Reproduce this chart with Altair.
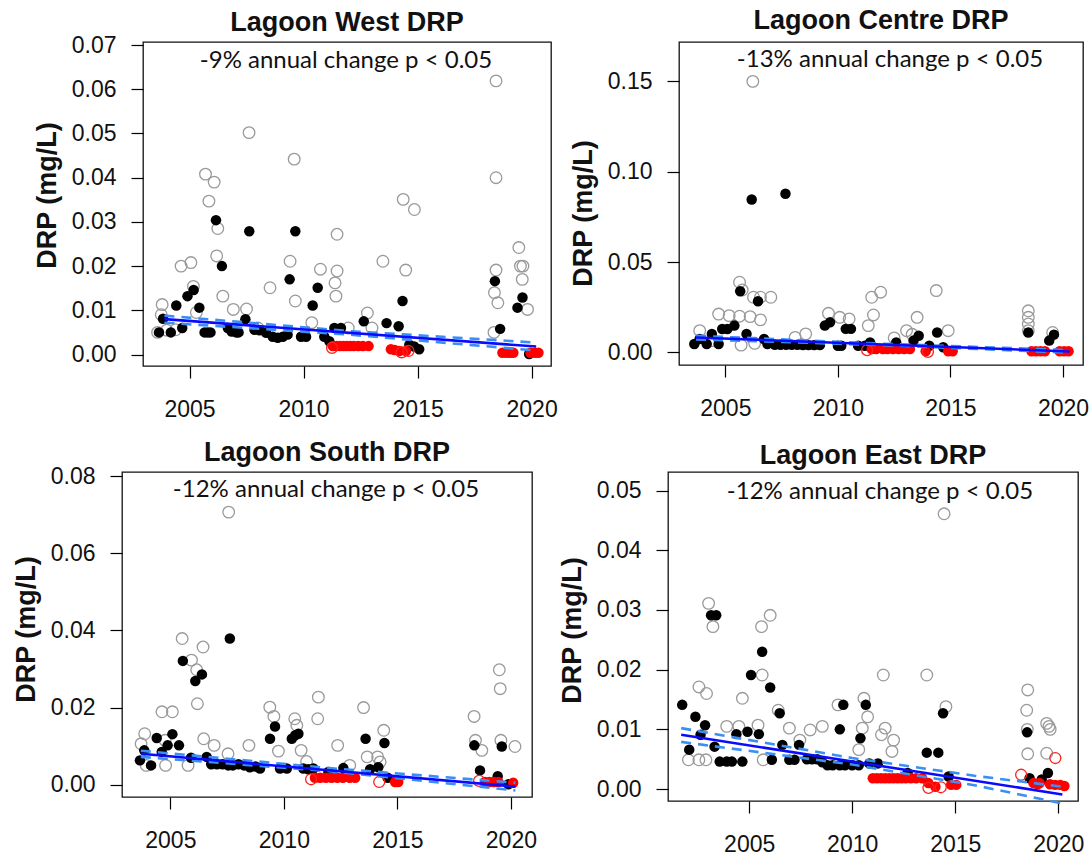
import altair as alt
import pandas as pd

# ---------------- data (year, DRP mg/L) ----------------
WEST_GREY = [(2004.63,0.0200),(2005.06,0.0208),(2005.70,0.0408),(2006.08,0.0390),(2005.85,0.0347),(2006.24,0.0285),
             (2006.19,0.0223),(2007.61,0.0502),(2008.53,0.0151),(2009.59,0.0442),(2009.41,0.0211),(2009.64,0.0121),
             (2010.74,0.0193),(2011.47,0.0272),(2011.47,0.0189),(2011.38,0.0162),(2011.42,0.0132),(2013.48,0.0211),
             (2014.37,0.0351),(2014.86,0.0328),(2014.48,0.0191),(2018.44,0.0619),(2018.44,0.0400),(2018.44,0.0191),
             (2018.37,0.0140),(2018.52,0.0117),(2019.44,0.0242),(2019.51,0.0200),(2019.62,0.0200),(2019.59,0.0170),
             (2019.82,0.0102),(2006.46,0.0132),(2006.92,0.0102),(2007.50,0.0103),(2005.17,0.0154),(2003.80,0.0113),
             (2012.80,0.0094),(2011.96,0.0060),(2010.36,0.0072),(2003.76,0.0090),(2004.39,0.0056),(2006.90,0.0056),
             (2003.60,0.0050),(2004.00,0.0055),(2005.30,0.0095),(2008.00,0.0060),(2013.00,0.0060),(2018.35,0.0050)]
WEST_BLACK = [(2006.16,0.0304),(2006.42,0.0200),(2007.62,0.0279),(2009.64,0.0279),(2009.39,0.0170),(2010.62,0.0151),
              (2010.40,0.0111),(2004.42,0.0111),(2004.91,0.0132),(2005.18,0.0146),(2005.43,0.0106),(2003.84,0.0081),
              (2003.66,0.0050),(2004.18,0.0050),(2004.68,0.0060),(2005.66,0.0050),(2005.80,0.0050),(2005.92,0.0050),
              (2006.68,0.0060),(2006.85,0.0052),(2007.05,0.0050),(2007.15,0.0050),(2007.45,0.0080),(2007.85,0.0056),
              (2008.07,0.0055),(2008.36,0.0049),(2008.65,0.0040),(2008.87,0.0038),(2009.09,0.0040),(2009.30,0.0045),
              (2009.89,0.0040),(2010.11,0.0040),(2010.91,0.0040),(2011.13,0.0030),(2011.35,0.0060),(2011.64,0.0060),
              (2012.64,0.0075),(2013.64,0.0071),(2014.17,0.0064),(2014.34,0.0121),(2014.64,0.0022),(2014.85,0.0018),
              (2015.07,0.0012),(2018.39,0.0166),(2018.62,0.0058),(2019.60,0.0129),(2019.38,0.0106),(2019.89,0.0001)]
WEST_RED = [(2011.28,0.0019),(2011.45,0.0019),(2011.60,0.0019),(2011.75,0.0019),(2011.90,0.0019),(2012.05,0.0019),
            (2012.20,0.0019),(2012.40,0.0019),(2012.60,0.0019),(2012.85,0.0019),(2013.83,0.0012),(2014.00,0.0010),
            (2014.20,0.0008),(2014.49,0.0008),(2018.72,0.0004),(2018.90,0.0004),(2019.05,0.0004),(2019.20,0.0004),
            (2019.95,0.0004),(2020.15,0.0004),(2020.30,0.0004)]
WEST_RED_OPEN = [(2011.25,0.0015),(2014.30,0.0005),(2014.60,0.0008)]
WEST_TREND = [(2003.9,0.0080),(2020.2,0.0018)]
WEST_UPPER = [(2003.9,0.0088),(2012.0,0.0053),(2020.2,0.0027)]
WEST_LOWER = [(2003.9,0.0072),(2012.0,0.0045),(2020.2,0.0009)]

CENTRE_GREY = [(2006.22,0.150),(2005.63,0.0388),(2005.75,0.0345),(2006.25,0.0305),(2006.56,0.0305),(2007.02,0.0305),
               (2004.70,0.0212),(2005.17,0.0203),(2005.63,0.0200),(2006.10,0.0198),(2006.56,0.0180),(2009.58,0.0216),
               (2010.08,0.0194),(2010.50,0.0185),(2011.50,0.0305),(2011.90,0.0333),(2011.58,0.0207),(2011.35,0.0148),
               (2013.52,0.0194),(2014.37,0.0342),(2014.90,0.0120),(2013.05,0.0120),(2018.46,0.0230),(2018.46,0.0194),
               (2018.46,0.0157),(2018.46,0.0120),(2019.54,0.0110),(2003.86,0.0120),(2004.40,0.0065),(2008.57,0.0102),
               (2008.10,0.0083),(2005.70,0.0040),(2006.30,0.0050),(2012.50,0.0080),(2013.30,0.0100)]
CENTRE_BLACK = [(2006.17,0.0846),(2007.67,0.0878),(2005.66,0.0338),(2006.45,0.0283),(2004.40,0.0102),(2004.86,0.0129),
                (2005.09,0.0129),(2005.40,0.0148),(2005.94,0.0102),(2003.62,0.0046),(2003.86,0.0074),(2004.17,0.0046),
                (2004.70,0.0046),(2006.72,0.0074),(2006.87,0.0046),(2007.20,0.0042),(2007.45,0.0042),(2007.70,0.0042),
                (2007.95,0.0042),(2008.20,0.0042),(2008.45,0.0040),(2008.70,0.0040),(2008.95,0.0040),(2009.20,0.0040),
                (2009.42,0.0148),(2009.65,0.0166),(2010.00,0.0037),(2010.15,0.0037),(2010.35,0.0130),(2010.58,0.0130),
                (2010.90,0.0037),(2011.20,0.0037),(2011.43,0.0055),(2012.59,0.0055),(2013.36,0.0065),(2013.59,0.0092),
                (2014.06,0.0037),(2014.41,0.0110),(2014.68,0.0028),(2018.46,0.0110),(2019.39,0.0065),(2019.60,0.0098)]
CENTRE_RED = [(2011.50,0.0018),(2011.70,0.0018),(2012.00,0.0018),(2012.20,0.0018),(2012.45,0.0018),(2012.70,0.0018),
              (2012.95,0.0018),(2013.20,0.0018),(2013.90,0.0006),(2014.90,0.0006),(2015.10,0.0006),(2018.60,0.0006),
              (2018.80,0.0006),(2019.00,0.0006),(2019.20,0.0006),(2019.85,0.0006),(2020.05,0.0006),(2020.25,0.0006)]
CENTRE_RED_OPEN = [(2011.30,0.0012),(2014.00,0.0003)]
CENTRE_TREND = [(2003.7,0.0082),(2020.3,0.0005)]
CENTRE_UPPER = [(2003.7,0.0092),(2012.0,0.0048),(2020.3,0.0012)]
CENTRE_LOWER = [(2003.7,0.0072),(2012.0,0.0040),(2020.3,-0.0002)]

SOUTH_GREY = [(2007.57,0.0707),(2005.52,0.0379),(2005.93,0.0323),(2006.44,0.0357),(2006.16,0.0298),(2006.19,0.0210),
              (2004.63,0.0189),(2005.09,0.0189),(2006.47,0.0119),(2006.93,0.0102),(2007.54,0.0080),(2008.46,0.0102),
              (2009.38,0.0201),(2009.56,0.0177),(2009.76,0.0087),(2010.48,0.0171),(2010.57,0.0154),(2011.52,0.0227),
              (2011.49,0.0171),(2012.37,0.0102),(2013.51,0.0200),(2014.40,0.0141),(2018.38,0.0177),(2018.44,0.0115),
              (2018.72,0.0089),(2019.49,0.0298),(2019.53,0.0249),(2019.56,0.0115),(2020.18,0.0099),(2003.87,0.0132),
              (2003.71,0.0106),(2003.94,0.0050),(2004.79,0.0050),(2005.78,0.0050),(2010.76,0.0089),(2013.67,0.0072),
              (2014.13,0.0072),(2004.77,0.0115),(2014.24,0.0059),(2011.00,0.0060),(2012.90,0.0050)]
SOUTH_BLACK = [(2007.62,0.0379),(2005.55,0.0321),(2006.10,0.0269),(2006.39,0.0286),(2004.40,0.0121),(2005.09,0.0131),
               (2003.66,0.0063),(2003.85,0.0089),(2004.15,0.0050),(2004.62,0.0085),(2004.88,0.0102),(2005.38,0.0102),
               (2005.91,0.0070),(2006.60,0.0072),(2006.80,0.0053),(2007.05,0.0053),(2007.30,0.0053),(2007.55,0.0050),
               (2007.75,0.0050),(2008.00,0.0053),(2008.25,0.0050),(2008.50,0.0045),(2008.75,0.0047),(2008.95,0.0042),
               (2009.39,0.0119),(2009.61,0.0151),(2009.83,0.0042),(2010.13,0.0042),(2010.35,0.0119),(2010.50,0.0128),
               (2010.64,0.0132),(2010.86,0.0042),(2011.08,0.0040),(2011.30,0.0042),(2011.96,0.0033),(2012.62,0.0043),
               (2013.60,0.0119),(2013.80,0.0040),(2014.16,0.0045),(2014.43,0.0108),(2014.57,0.0018),(2018.39,0.0102),
               (2018.64,0.0037),(2019.60,0.0099),(2019.42,0.0022),(2019.89,0.0001)]
SOUTH_RED = [(2011.37,0.0018),(2011.60,0.0018),(2011.85,0.0018),(2012.10,0.0018),(2012.35,0.0018),(2012.60,0.0018),
             (2012.90,0.0018),(2013.14,0.0018),(2014.90,0.0007),(2015.04,0.0007),(2018.86,0.0007),(2019.05,0.0007),
             (2019.25,0.0007),(2019.45,0.0007),(2020.10,0.0005)]
SOUTH_RED_OPEN = [(2011.20,0.0014),(2014.20,0.0007),(2018.60,0.0010)]
SOUTH_TREND = [(2003.7,0.0080),(2020.2,-0.0005)]
SOUTH_UPPER = [(2003.7,0.0088),(2012.0,0.0043),(2020.2,0.0005)]
SOUTH_LOWER = [(2003.7,0.0072),(2012.0,0.0035),(2020.2,-0.0015)]

EAST_GREY = [(2014.46,0.0461),(2003.03,0.0311),(2003.24,0.0272),(2002.56,0.0171),(2002.93,0.0160),(2004.67,0.0152),
             (2005.60,0.0272),(2006.02,0.0291),(2005.63,0.0191),(2006.41,0.0132),(2006.95,0.0102),(2007.96,0.0099),
             (2008.55,0.0105),(2007.46,0.0082),(2009.31,0.0141),(2010.57,0.0152),(2010.75,0.0121),(2010.49,0.0102),
             (2010.32,0.0066),(2011.51,0.0191),(2011.42,0.0091),(2011.60,0.0102),(2012.01,0.0082),(2011.93,0.0063),
             (2013.62,0.0191),(2014.55,0.0138),(2018.52,0.0166),(2018.47,0.0132),(2018.52,0.0059),(2019.44,0.0110),
             (2019.61,0.0100),(2019.44,0.0060),(2002.05,0.0049),(2002.56,0.0049),(2002.90,0.0049),(2003.91,0.0105),
             (2004.50,0.0105),(2005.43,0.0107),(2005.68,0.0049),(2018.50,0.0100),(2019.55,0.0105)]
EAST_BLACK = [(2001.75,0.0141),(2002.09,0.0066),(2002.39,0.0121),(2002.86,0.0107),(2002.64,0.0091),(2003.15,0.0291),
              (2003.40,0.0291),(2003.32,0.0071),(2003.57,0.0046),(2003.91,0.0046),(2004.16,0.0046),(2004.38,0.0092),
              (2004.67,0.0046),(2004.92,0.0096),(2005.09,0.0191),(2005.47,0.0092),(2005.63,0.0230),(2006.02,0.0170),
              (2006.10,0.0049),(2006.48,0.0127),(2006.61,0.0074),(2006.95,0.0049),(2007.20,0.0049),(2007.42,0.0074),
              (2007.80,0.0050),(2008.05,0.0050),(2008.30,0.0050),(2008.55,0.0045),(2008.80,0.0040),(2009.05,0.0040),
              (2009.40,0.0040),(2009.65,0.0040),(2009.40,0.0100),(2009.57,0.0141),(2010.00,0.0040),(2010.32,0.0040),
              (2010.40,0.0085),(2010.66,0.0141),(2010.83,0.0043),(2011.25,0.0043),(2012.69,0.0027),(2013.62,0.0061),
              (2014.18,0.0061),(2014.41,0.0127),(2014.68,0.0021),(2018.49,0.0095),(2018.61,0.0018),(2019.50,0.0027),
              (2019.20,0.0016)]
EAST_RED = [(2011.00,0.0018),(2011.20,0.0018),(2011.40,0.0018),(2011.60,0.0018),(2011.80,0.0018),(2012.00,0.0018),
            (2012.20,0.0018),(2012.40,0.0018),(2012.60,0.0018),(2012.85,0.0018),(2013.10,0.0018),(2013.40,0.0018),
            (2013.70,0.0010),(2014.04,0.0004),(2014.80,0.0007),(2015.05,0.0007),(2018.80,0.0010),(2019.00,0.0008),
            (2019.10,0.0010),(2019.60,0.0008),(2019.85,0.0007),(2020.10,0.0007),(2020.30,0.0005)]
EAST_RED_OPEN = [(2019.86,0.0052),(2013.70,0.0002),(2018.20,0.0024),(2014.30,0.0003)]
EAST_TREND = [(2001.7,0.0091),(2020.2,-0.0009)]
EAST_UPPER = [(2001.7,0.0102),(2010.0,0.0052),(2016.0,0.0022),(2020.2,0.0004)]
EAST_LOWER = [(2001.7,0.0079),(2010.0,0.0041),(2016.0,0.0006),(2020.2,-0.0024)]

TITLES = ["Lagoon West DRP", "Lagoon Centre DRP", "Lagoon South DRP", "Lagoon East DRP"]
NOTES = ["-9% annual change p < 0.05", "-13% annual change p < 0.05",
         "-12% annual change p < 0.05", "-12% annual change p < 0.05"]
X_TICKS = [2005, 2010, 2015, 2020]
Y_TICKS = [[0.00, 0.01, 0.02, 0.03, 0.04, 0.05, 0.06, 0.07],
           [0.00, 0.05, 0.10, 0.15],
           [0.00, 0.02, 0.04, 0.06, 0.08],
           [0.00, 0.01, 0.02, 0.03, 0.04, 0.05]]
X_DOMAINS = [[2002.96, 2020.85], [2002.94, 2020.89], [2002.87, 2020.93], [2001.06, 2020.96]]
Y_DOMAINS = [[-0.0026, 0.0707], [-0.0070, 0.1718], [-0.0032, 0.0811], [-0.0020, 0.0531]]

FONT = "Liberation Sans"


def frame(pairs):
    return pd.DataFrame({"year": [p[0] for p in pairs], "drp": [p[1] for p in pairs]})


def panel(i, grey, black, red, red_open, trend, upper, lower, width, height,
          note_x, note_y, title_offset, ytitle_y, spacer=None):
    xs = alt.Scale(domain=X_DOMAINS[i], nice=False, zero=False)
    ys = alt.Scale(domain=Y_DOMAINS[i], nice=False, zero=False)
    xax = alt.Axis(values=X_TICKS, format="d", title=None, grid=False, domain=False,
                   tickSize=12, tickColor="black", tickWidth=1.2, labelFont=FONT,
                   labelFontSize=23, labelColor="#111", labelPadding=20, labelFlush=False,
                   labelOverlap=False)
    yax = alt.Axis(values=Y_TICKS[i], format=".2f", title="DRP (mg/L)", grid=False, domain=False,
                   tickSize=12, tickColor="black", tickWidth=1.2, labelFont=FONT,
                   labelFontSize=23, labelColor="#111", labelPadding=15, labelFlush=False,
                   labelOverlap=False, titleFont=FONT, titleFontSize=27, titleFontWeight="bold",
                   titleColor="#111", titlePadding=10, titleY=ytitle_y)
    x = alt.X("year:Q", scale=xs, axis=xax)
    y = alt.Y("drp:Q", scale=ys, axis=yax)

    layers = [
        alt.Chart(frame(grey)).mark_point(shape="circle", filled=False, size=135, color="#9a9a9a",
                                          strokeWidth=1.3, opacity=1).encode(x=x, y=y),
        alt.Chart(frame(black)).mark_point(shape="circle", filled=True, size=110, color="#000000",
                                           opacity=1).encode(x=x, y=y),
        alt.Chart(frame(red)).mark_point(shape="circle", filled=True, size=110, color="#ff0000",
                                         opacity=1).encode(x=x, y=y),
        alt.Chart(frame(red_open)).mark_point(shape="circle", filled=False, size=120, color="#ff2020",
                                              strokeWidth=1.3, opacity=1).encode(x=x, y=y),
        alt.Chart(frame(upper)).mark_line(color="#3a8ff5", strokeWidth=2.6, strokeDash=[10, 7]).encode(x=x, y=y),
        alt.Chart(frame(lower)).mark_line(color="#3a8ff5", strokeWidth=2.6, strokeDash=[10, 7]).encode(x=x, y=y),
        alt.Chart(frame(trend)).mark_line(color="#0a0aff", strokeWidth=2.6).encode(x=x, y=y),
        alt.Chart(pd.DataFrame({"t": [NOTES[i]]})).mark_text(
            font="Lato", fontSize=24, color="#111", align="center", baseline="alphabetic"
        ).encode(x=alt.value(note_x), y=alt.value(note_y), text="t:N"),
    ]
    if spacer is not None:
        # invisible layout spacer that widens the panel's left extent
        layers.append(
            alt.Chart(pd.DataFrame({"s": [0]})).mark_rule(strokeOpacity=0, strokeWidth=1).encode(
                x=alt.value(spacer), x2=alt.value(spacer), y=alt.value(150), y2=alt.value(151))
        )
    return alt.layer(*layers).properties(
        width=width, height=height,
        title=alt.TitleParams(TITLES[i], font=FONT, fontSize=27, fontWeight="bold", color="#111",
                              anchor="middle", frame="group", offset=title_offset),
    )


def blank(w):
    # empty, invisible cell used only to offset a row horizontally
    return alt.Chart(pd.DataFrame({"b": [0]})).mark_rule(strokeOpacity=0, strokeWidth=0.01).encode(
        x=alt.value(0), y=alt.value(0), y2=alt.value(1)
    ).properties(width=w, height=1, view=alt.ViewBackground(strokeOpacity=0, strokeWidth=0))


p1 = panel(0, WEST_GREY, WEST_BLACK, WEST_RED, WEST_RED_OPEN, WEST_TREND, WEST_UPPER, WEST_LOWER,
           408, 324, 203, 26, -3, 153)
p2 = panel(1, CENTRE_GREY, CENTRE_BLACK, CENTRE_RED, CENTRE_RED_OPEN, CENTRE_TREND, CENTRE_UPPER, CENTRE_LOWER,
           404, 323, 211, 25, 7, 171, spacer=-120)
p3 = panel(2, SOUTH_GREY, SOUTH_BLACK, SOUTH_RED, SOUTH_RED_OPEN, SOUTH_TREND, SOUTH_UPPER, SOUTH_LOWER,
           410, 325, 204, 25, -2, 157)
p4 = panel(3, EAST_GREY, EAST_BLACK, EAST_RED, EAST_RED_OPEN, EAST_TREND, EAST_UPPER, EAST_LOWER,
           410, 329, 212, 27, 2, 158, spacer=-129)

row1 = alt.hconcat(blank(22), p1, p2, spacing=0)
row2 = alt.hconcat(blank(1), p3, p4, spacing=0)
chart = alt.vconcat(row1, row2, spacing=16).properties(
    padding={"left": 10, "top": 6, "right": 0, "bottom": 0},
    background="white",
).configure_view(stroke="#111", strokeWidth=1.3)

chart.save("out.html", embed_options={"renderer": "svg", "actions": False})
